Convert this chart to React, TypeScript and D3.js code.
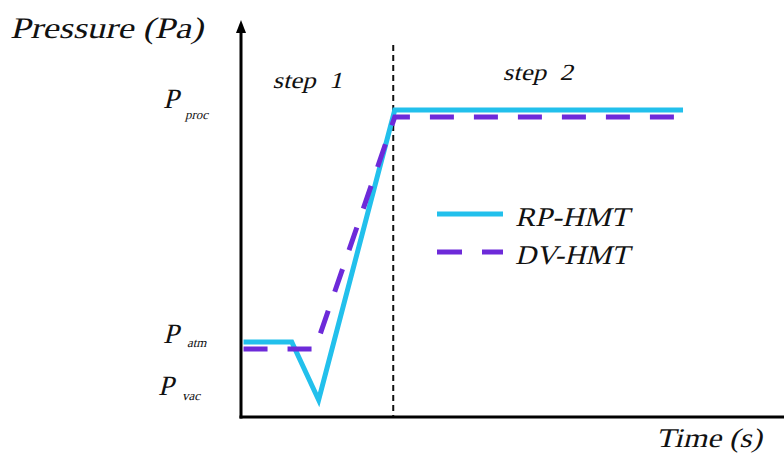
import React from "react";
import * as d3 from "d3";

// Time axis (arbitrary units) and pressure levels (arbitrary units)
const rpTime = [0.05, 1.0, 1.53, 3.03, 8.71];
const rpPressure = [2.0, 2.0, 1.0, 6.0, 6.0];
const dvTime = [0.05, 1.46, 3.03, 8.77];
const dvPressure = [1.88, 1.88, 5.88, 5.88];
const stepBoundary = 3.0;

const levelLabels = ["proc", "atm", "vac"];
const levelValues = [6.0, 2.0, 1.0];
const stepLabels = ["step  1", "step  2"];
const stepLabelTime = [0.62, 5.16];
const seriesNames = ["RP-HMT", "DV-HMT"];

const W = 784;
const H = 453;
const CYAN = "#22c0ec";
const PURPLE = "#6d2ad9";

// Serif text slanted with a skew so it reads as italic
function Slanted(props: {
  x: number;
  y: number;
  size: number;
  length?: number;
  children: React.ReactNode;
}) {
  const { x, y, size, length, children } = props;
  return (
    <text
      transform={`translate(${x},${y}) skewX(-14)`}
      fontSize={size}
      fill="#111"
      textLength={length}
      lengthAdjust={length ? "spacingAndGlyphs" : undefined}
      style={{ fontFamily: "'Liberation Serif'", whiteSpace: "pre" }}
    >
      {children}
    </text>
  );
}

export default function App() {
  const x = d3.scaleLinear().domain([0, 10.7]).range([241, 784]);
  const y = d3.scaleLinear().domain([1, 6]).range([400, 110]);
  const axisY = 417;
  const axisX = x(0);

  const line = d3
    .line<[number, number]>()
    .x((d) => x(d[0]))
    .y((d) => y(d[1]));

  const rp = rpTime.map((t, i) => [t, rpPressure[i]] as [number, number]);
  const dv = dvTime.map((t, i) => [t, dvPressure[i]] as [number, number]);

  const levelOffsets = [
    { px: 163, dy: -2, sx: 22, sy: 11 },
    { px: 163, dy: 1, sx: 24, sy: 4 },
    { px: 158, dy: -5, sx: 24, sy: 5 },
  ];

  return (
    <svg
      width={W}
      height={H}
      style={{ position: "absolute", left: 0, top: 0, background: "#fff" }}
    >
      {/* axis title */}
      <Slanted x={10} y={38} size={30} length={193}>
        Pressure (Pa)
      </Slanted>

      {/* y axis with arrow */}
      <line x1={axisX} x2={axisX} y1={30} y2={axisY + 1.5} stroke="#000" strokeWidth={3} />
      <path d={`M${axisX - 5},${33} L${axisX},${20} L${axisX + 5},${33} Z`} fill="#000" />

      {/* x axis */}
      <line x1={axisX - 1.5} x2={W} y1={axisY} y2={axisY} stroke="#000" strokeWidth={3} />
      <Slanted x={656} y={447} size={27} length={106}>
        Time (s)
      </Slanted>

      {/* step boundary */}
      <line
        x1={x(stepBoundary)}
        x2={x(stepBoundary)}
        y1={45}
        y2={axisY - 1}
        stroke="#111"
        strokeWidth={2}
        strokeDasharray="6 4"
      />
      {stepLabels.map((s, i) => (
        <Slanted key={s} x={x(stepLabelTime[i])} y={i === 0 ? 88 : 80} size={23} length={70}>
          {s}
        </Slanted>
      ))}

      {/* pressure level labels */}
      {levelLabels.map((l, i) => {
        const o = levelOffsets[i];
        const by = y(levelValues[i]) + o.dy;
        return (
          <g key={l}>
            <Slanted x={o.px} y={by} size={28}>
              P
            </Slanted>
            <Slanted x={o.px + o.sx} y={by + o.sy} size={13}>
              {l}
            </Slanted>
          </g>
        );
      })}

      {/* series */}
      <path
        d={line(rp) ?? ""}
        fill="none"
        stroke={CYAN}
        strokeWidth={5}
        strokeLinejoin="miter"
        strokeMiterlimit={10}
      />
      <path
        d={line(dv) ?? ""}
        fill="none"
        stroke={PURPLE}
        strokeWidth={5}
        strokeDasharray="24 20"
        strokeLinejoin="miter"
      />

      {/* legend */}
      <line x1={437} x2={503} y1={214} y2={214} stroke={CYAN} strokeWidth={5} />
      <Slanted x={515} y={226} size={27} length={114}>
        {seriesNames[0]}
      </Slanted>
      <line
        x1={437}
        x2={503}
        y1={252}
        y2={252}
        stroke={PURPLE}
        strokeWidth={5}
        strokeDasharray="25 20"
      />
      <Slanted x={515} y={264} size={27} length={114}>
        {seriesNames[1]}
      </Slanted>
    </svg>
  );
}
